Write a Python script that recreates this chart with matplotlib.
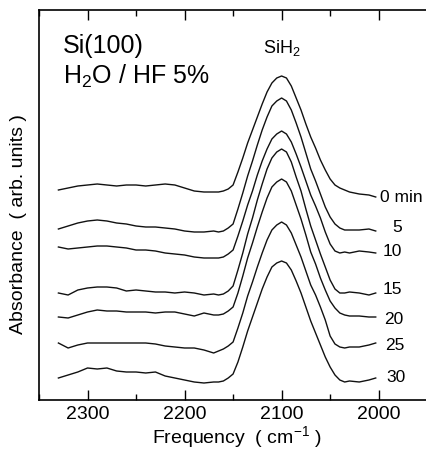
import matplotlib
matplotlib.use("Agg")
import matplotlib.pyplot as plt
from matplotlib.ticker import MultipleLocator

plt.rcParams['font.family'] = ['Liberation Sans', 'DejaVu Sans']

# wavenumber grid (cm-1)
freq = [2330, 2320, 2310, 2300, 2290, 2280, 2270, 2260, 2250, 2240, 2230, 2220, 2210, 2200, 2190, 2180, 2170,
        2165, 2160, 2155, 2150, 2145, 2140, 2135, 2130, 2125, 2120, 2115, 2110, 2105, 2100, 2095, 2090,
        2085, 2080, 2075, 2070, 2065, 2060, 2055, 2050, 2045, 2040, 2035,
        2030, 2020, 2010, 2003]

# absorbance of each spectrum (arb. units), relative to its own baseline
abs_0 = [0.02, 0.04, 0.06, 0.07, 0.08, 0.07, 0.06, 0.07, 0.07, 0.06, 0.07, 0.08, 0.07, 0.04, 0.01, 0.00, 0.00,
         0.00, 0.01, 0.03, 0.07, 0.20, 0.34, 0.49, 0.62, 0.75, 0.88, 1.00, 1.09, 1.14, 1.16, 1.14, 1.06,
         0.94, 0.82, 0.68, 0.55, 0.44, 0.32, 0.22, 0.13, 0.07, 0.04, 0.02,
         0.00, -0.02, -0.03, -0.05]
abs_5 = [0.03, 0.06, 0.09, 0.11, 0.12, 0.11, 0.09, 0.08, 0.06, 0.05, 0.05, 0.04, 0.03, 0.01, 0.00, 0.00, 0.01,
         0.00, 0.01, 0.04, 0.08, 0.23, 0.39, 0.56, 0.71, 0.87, 1.02, 1.15, 1.26, 1.31, 1.34, 1.31, 1.22,
         1.09, 0.95, 0.79, 0.63, 0.51, 0.38, 0.25, 0.15, 0.08, 0.04, 0.02,
         0.02, 0.02, 0.03, 0.01]
abs_10 = [0.11, 0.09, 0.10, 0.11, 0.12, 0.12, 0.11, 0.10, 0.08, 0.08, 0.07, 0.05, 0.04, 0.03, 0.01, 0.00, 0.00,
          0.00, 0.01, 0.04, 0.08, 0.22, 0.37, 0.53, 0.67, 0.83, 0.97, 1.09, 1.19, 1.24, 1.27, 1.24, 1.16,
          1.04, 0.91, 0.77, 0.63, 0.52, 0.40, 0.26, 0.14, 0.07, 0.05, 0.06,
          0.05, 0.07, 0.06, 0.05]
abs_15 = [0.02, 0.00, 0.05, 0.07, 0.08, 0.08, 0.07, 0.04, 0.05, 0.04, 0.03, 0.03, 0.02, 0.03, 0.02, 0.00, 0.01,
          0.00, 0.01, 0.04, 0.09, 0.25, 0.42, 0.61, 0.77, 0.95, 1.11, 1.26, 1.37, 1.43, 1.46, 1.43, 1.33,
          1.18, 1.04, 0.86, 0.69, 0.55, 0.41, 0.28, 0.15, 0.06, 0.02, 0.02,
          0.03, 0.02, 0.00, 0.02]
abs_20 = [-0.01, -0.02, 0.01, 0.04, 0.06, 0.05, 0.05, 0.04, 0.04, 0.04, 0.03, 0.04, 0.04, 0.02, 0.00, 0.03, 0.01,
          0.01, 0.02, 0.05, 0.09, 0.23, 0.40, 0.58, 0.73, 0.89, 1.04, 1.18, 1.29, 1.34, 1.37, 1.34, 1.25,
          1.11, 0.97, 0.81, 0.64, 0.52, 0.38, 0.26, 0.15, 0.08, 0.03, 0.01,
          0.00, 0.00, -0.01, -0.01]
abs_25 = [0.07, 0.02, 0.05, 0.07, 0.07, 0.07, 0.07, 0.07, 0.07, 0.07, 0.06, 0.04, 0.03, 0.02, 0.02, 0.00, -0.03,
          -0.01, 0.01, 0.04, 0.08, 0.22, 0.37, 0.54, 0.68, 0.83, 0.97, 1.10, 1.20, 1.25, 1.28, 1.25, 1.17,
          1.05, 0.93, 0.79, 0.65, 0.55, 0.43, 0.30, 0.14, 0.06, 0.03, 0.02,
          0.03, 0.03, 0.05, 0.07]
abs_30 = [0.05, 0.08, 0.11, 0.15, 0.14, 0.15, 0.12, 0.11, 0.11, 0.10, 0.11, 0.07, 0.05, 0.03, 0.01, 0.00, 0.01,
          0.01, 0.02, 0.05, 0.09, 0.21, 0.36, 0.52, 0.66, 0.80, 0.94, 1.06, 1.16, 1.20, 1.22, 1.20, 1.13,
          1.02, 0.90, 0.76, 0.62, 0.50, 0.38, 0.26, 0.16, 0.08, 0.03, 0.01,
          0.02, 0.01, 0.03, 0.05]

spectra = [abs_0, abs_5, abs_10, abs_15, abs_20, abs_25, abs_30]
offsets = [2.08, 1.68, 1.42, 1.05, 0.84, 0.50, 0.17]
labels = ['0 min', '5', '10', '15', '20', '25', '30']
# where the time labels sit (freq, absorbance)
label_x = [1998.7, 1986.3, 1995.6, 1995.6, 1994.5, 1993.5, 1992.5]
label_y = [2.03, 1.72, 1.48, 1.10, 0.81, 0.54, 0.22]

fig = plt.figure(figsize=(4.26, 4.51), dpi=100)
# axes run past the right edge of the figure, as in the scanned plot
ax = fig.add_axes([39/426, 51/451, 400/426, 390/451])

for spec, off in zip(spectra, offsets):
    ax.plot(freq, [v + off for v in spec], color='#111111', lw=1.0)

for lab, lx, ly in zip(labels, label_x, label_y):
    ax.text(lx, ly, lab, fontsize=12.5, ha='left', va='center')

ax.set_xlim(2350, 1937.8)
ax.set_ylim(0, 3.9)
ax.set_yticks([])
ax.xaxis.set_major_locator(MultipleLocator(100))
ax.xaxis.set_minor_locator(MultipleLocator(50))
ax.tick_params(axis='x', which='both', direction='in', top=True, labelsize=14, pad=4, width=1)
ax.tick_params(axis='x', which='major', length=7)
ax.tick_params(axis='x', which='minor', length=4)
ax.spines['right'].set_visible(False)
for s in ['left', 'top', 'bottom']:
    ax.spines[s].set_linewidth(1.2)

ax.set_xlabel(r'Frequency  ( cm$\mathregular{^{-1}}$ )', fontsize=14, ha='center', va='center')
ax.xaxis.set_label_coords((237 - 39) / 400, -0.095)
ax.set_ylabel('Absorbance  ( arb. units )', fontsize=14, ha='center', va='center')
ax.yaxis.set_label_coords(-0.052, 0.45)

ax.text(24/400, 0.890, 'Si(100)', transform=ax.transAxes, fontsize=18, va='baseline')
ax.text(24/400, 0.810, r'H$\mathregular{_2}$O / HF 5%', transform=ax.transAxes, fontsize=18, va='baseline')
ax.text(2100, 0.890, r'SiH$\mathregular{_2}$', transform=ax.get_xaxis_transform(), fontsize=13,
        ha='center', va='baseline')

fig.savefig('out.png', dpi=100)
